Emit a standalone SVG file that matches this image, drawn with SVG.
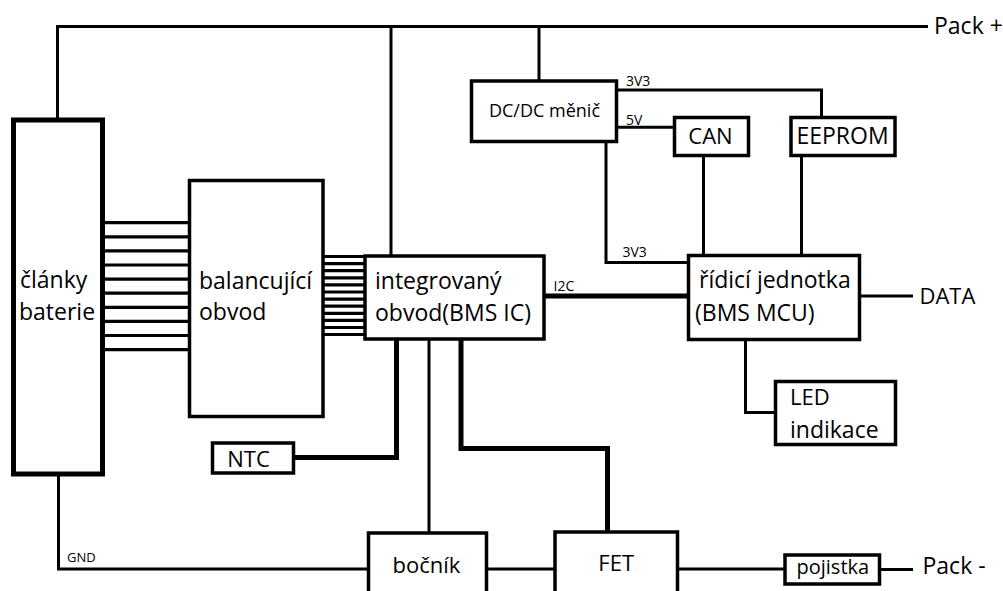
<svg xmlns="http://www.w3.org/2000/svg" width="1003" height="591" viewBox="0 0 1003 591">
<style>
.box{fill:#fff;stroke:#000;stroke-width:3.5}
.bat{stroke-width:5}
.w{fill:none;stroke:#000;stroke-width:3;stroke-linejoin:miter}
.t{stroke-width:5}
.bus{stroke:#000;stroke-width:3.2}
text{font-family:"Open Sans","Noto Sans","DejaVu Sans",sans-serif;fill:#000}
.l{font-size:23px}
.m{font-size:22px}
.s{font-size:18px}
.xs{font-size:14px}
.g{font-size:13px}
.c{text-anchor:middle}
</style>
<rect width="1003" height="591" fill="#fff"/>
<g id="connectors">
<path class="w" d="M57.5,120 V26.5 H928"/>
<path class="w" d="M391,26.5 V256"/>
<path class="w" d="M539,26.5 V81"/>
<path class="w" d="M616.5,90 H821.5 V117.5"/>
<path class="w" d="M616.5,127.3 H674.5"/>
<path class="w" d="M606,141.5 V262.5 H688.5"/>
<path class="w" d="M703.5,155.5 V255.5"/>
<path class="w" d="M801.5,155.5 V255.5"/>
<path class="w t" d="M544,296 H688.5"/>
<path class="w" d="M859.5,296 H913"/>
<path class="w" d="M745.5,339 V412.5 H775.5"/>
<path class="w t" d="M396.5,339 V457.5 H293.5"/>
<path class="w" d="M429,339 V533"/>
<path class="w t" d="M461,339 V448.5 H607.5 V532"/>
<path class="w" d="M58.5,474 V569 H368.5"/>
<path class="w" d="M486.5,569 H555"/>
<path class="w" d="M677.5,569 H785"/>
<path class="w" d="M879.5,569.5 H913"/>
<g id="cell-bus">
<path class="bus" d="M102.5,222.7H189.5M102.5,236.8H189.5M102.5,250.9H189.5M102.5,265H189.5M102.5,279.1H189.5M102.5,293.2H189.5M102.5,307.3H189.5M102.5,321.4H189.5M102.5,335.5H189.5M102.5,349.6H189.5"/>
</g>
<g id="ic-bus">
<path class="bus" stroke-width="2.8" d="M323,256.5H365M323,263.6H365M323,270.7H365M323,277.8H365M323,284.9H365M323,292H365M323,299.1H365M323,306.2H365M323,313.3H365M323,320.4H365M323,327.5H365M323,334.5H365"/>
</g>
<text class="xs" x="626" y="86">3V3</text>
<text class="xs" x="626" y="124.5">5V</text>
<text class="xs" x="622.5" y="257">3V3</text>
<text class="xs" x="553.5" y="290.5">I2C</text>
<text class="g" x="67" y="561.5">GND</text>
</g>
<g id="battery">
<rect class="box bat" x="13.5" y="120" width="89" height="354"/>
<text class="l" x="20" y="287.5">články</text>
<text class="l" x="19" y="319.5">baterie</text>
</g>
<g id="balancing">
<rect class="box" x="189.5" y="180.5" width="133.5" height="236"/>
<text class="l" x="199" y="288.5">balancující</text>
<text class="l" x="199" y="319.5">obvod</text>
</g>
<g id="bms-ic">
<rect class="box" x="365" y="256" width="179" height="83"/>
<text class="l" x="375" y="289">integrovaný</text>
<text class="l" x="375" y="321">obvod(BMS IC)</text>
</g>
<g id="dcdc">
<rect class="box" x="471.5" y="81" width="145" height="60.5"/>
<text class="s c" x="544.5" y="116.5">DC/DC měnič</text>
</g>
<g id="can">
<rect class="box" x="674.5" y="117.5" width="74" height="38"/>
<text class="m c" x="710.5" y="143.5">CAN</text>
</g>
<g id="eeprom">
<rect class="box" x="791" y="117.5" width="104" height="38"/>
<text class="l c" x="842.5" y="143.5">EEPROM</text>
</g>
<g id="mcu">
<rect class="box" x="688.5" y="255.5" width="171" height="84"/>
<text class="l" x="699" y="288">řídicí jednotka</text>
<text class="l" x="695" y="320.5">(BMS MCU)</text>
</g>
<g id="led">
<rect class="box" x="775.5" y="381.5" width="120" height="63"/>
<text class="m" x="790" y="405">LED</text>
<text class="l" x="790" y="437.5">indikace</text>
</g>
<g id="ntc">
<rect class="box" x="212.5" y="443" width="81" height="30"/>
<text class="m c" x="248.5" y="466.7">NTC</text>
</g>
<g id="bocnik">
<rect class="box" x="368.5" y="533" width="118" height="70"/>
<text class="m" x="392.5" y="573">bočník</text>
</g>
<g id="fet">
<rect class="box" x="555" y="532" width="122.5" height="70"/>
<text class="m" x="598.3" y="571">FET</text>
</g>
<g id="pojistka">
<rect class="box" x="785" y="555" width="94.5" height="29"/>
<text class="m" x="796.5" y="573.5" style="font-size:20px">pojistka</text>
</g>
<g id="terminals">
<text class="l" x="934" y="33.5">Pack +</text>
<text class="m" x="919.5" y="303.5">DATA</text>
<text class="l" x="922.5" y="574">Pack -</text>
</g>
</svg>
